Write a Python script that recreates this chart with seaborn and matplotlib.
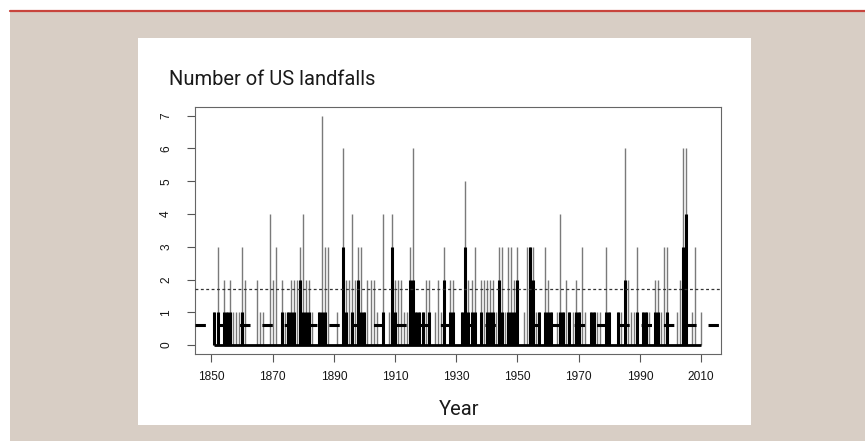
import numpy as np
import pandas as pd
import matplotlib
matplotlib.use("Agg")
import matplotlib.pyplot as plt
from matplotlib.patches import Rectangle
from matplotlib.lines import Line2D
import seaborn as sns

# US hurricane landfalls per year, 1851-2010: all hurricanes and major ones
years = list(range(1851, 2011))
all_landfalls = [
    1, 3, 0, 2, 1, 2, 1, 1, 1, 3,      # 1851-1860
    2, 0, 0, 0, 2, 1, 1, 0, 4, 2,      # 1861-1870
    3, 0, 2, 1, 1, 2, 2, 2, 3, 4,      # 1871-1880
    2, 2, 1, 0, 1, 7, 3, 3, 0, 0,      # 1881-1890
    1, 0, 6, 2, 2, 4, 2, 3, 3, 1,      # 1891-1900
    2, 2, 2, 1, 0, 4, 0, 1, 4, 2,      # 1901-1910
    2, 2, 1, 1, 3, 6, 1, 1, 1, 2,      # 1911-1920
    2, 0, 1, 2, 1, 3, 0, 2, 2, 0,      # 1921-1930
    0, 1, 5, 2, 2, 3, 0, 2, 2, 2,      # 1931-1940
    2, 2, 1, 3, 3, 1, 3, 3, 2, 3,      # 1941-1950
    0, 1, 3, 3, 3, 1, 1, 0, 3, 2,      # 1951-1960
    1, 0, 1, 4, 1, 2, 1, 1, 2, 1,      # 1961-1970
    3, 1, 0, 1, 1, 1, 1, 0, 3, 1,      # 1971-1980
    0, 0, 1, 1, 6, 2, 1, 1, 3, 0,      # 1981-1990
    1, 1, 1, 0, 2, 2, 1, 3, 3, 0,      # 1991-2000
    0, 1, 2, 6, 6, 0, 1, 3, 0, 1,      # 2001-2010
]
major_landfalls = [
    1, 1, 0, 1, 1, 1, 0, 0, 0, 1,
    0, 0, 0, 0, 0, 0, 0, 0, 0, 0,
    0, 0, 1, 0, 1, 1, 1, 0, 2, 1,
    1, 1, 0, 0, 1, 1, 1, 0, 0, 0,
    0, 0, 3, 1, 0, 1, 0, 2, 1, 1,
    0, 0, 0, 0, 0, 1, 0, 0, 3, 1,
    0, 0, 0, 0, 2, 2, 1, 1, 1, 0,
    1, 0, 0, 0, 0, 2, 0, 1, 1, 0,
    0, 1, 3, 1, 1, 1, 0, 1, 0, 1,
    1, 1, 0, 2, 1, 0, 1, 1, 1, 2,
    0, 0, 0, 3, 2, 0, 1, 0, 1, 1,
    1, 0, 0, 1, 1, 0, 1, 0, 1, 1,
    0, 0, 0, 1, 1, 0, 0, 0, 1, 1,
    0, 0, 1, 0, 2, 0, 0, 0, 1, 0,
    1, 1, 0, 0, 1, 1, 0, 0, 1, 0,
    0, 0, 0, 3, 4, 0, 0, 0, 0, 0,
]
x_ticks = [1850, 1870, 1890, 1910, 1930, 1950, 1970, 1990, 2010]
y_ticks = [0, 1, 2, 3, 4, 5, 6, 7]

df = pd.DataFrame({"year": years, "all": all_landfalls, "major": major_landfalls})
mean_all = df["all"].mean()
mean_major = df["major"].mean()

sns.set_theme(style="white")
plt.rcParams["font.family"] = ["Liberation Sans", "DejaVu Sans"]

W, H = 865, 441
fig = plt.figure(figsize=(W / 100, H / 100), dpi=100, facecolor="white")

# page background, rule and white card
fig.add_artist(Rectangle((10 / W, 0), 1 - 10 / W, 1 - 11 / H,
                         transform=fig.transFigure, facecolor="#d8cec5",
                         edgecolor="none", zorder=0))
fig.add_artist(Line2D([10 / W, 1], [1 - 10.5 / H, 1 - 10.5 / H],
                      transform=fig.transFigure, color="#c8453d", lw=1.6, zorder=1))
fig.add_artist(Rectangle((138 / W, 1 - 425 / H), (751 - 138) / W, (425 - 38) / H,
                         transform=fig.transFigure, facecolor="white",
                         edgecolor="none", zorder=1))

ax = fig.add_axes([195 / W, 1 - 354.3 / H, (720.5 - 195) / W, (354.3 - 106.5) / H])
ax.set_facecolor("white")
ax.set_zorder(2)

# thin stems: all landfalls; thick stems: major landfalls
ax.vlines(df["year"], 0, df["all"], color="#7a7a7a", lw=1.0, zorder=2)
pos = df[df["major"] > 0]
ax.vlines(pos["year"], 0, pos["major"], color="black", lw=2.2, zorder=3)
ax.hlines(0, df["year"].min(), df["year"].max(), color="black", lw=2.0, zorder=3)

# long-run averages
ax.axhline(mean_major, color="black", lw=2.2, dashes=(3.4, 3.9), zorder=4)
ax.axhline(mean_all, color="#333333", lw=0.9, dashes=(2.3, 2.0), zorder=4)

ax.set_xlim(1844.64, 2016.36)
ax.set_ylim(-0.28, 7.28)
ax.set_xticks(x_ticks)
ax.set_xticklabels([str(t) for t in x_ticks])
ax.set_yticks(y_ticks)
ax.set_yticklabels([str(t) for t in y_ticks], rotation=90, va="center")
ax.tick_params(axis="both", direction="out", length=5.5, width=0.8,
               color="#555555", labelsize=8.6, labelcolor="#161616")
ax.tick_params(axis="x", pad=6.5)
ax.tick_params(axis="y", pad=11)
ax.tick_params(left=True, bottom=True)
for s in ax.spines.values():
    s.set_color("#666666")
    s.set_linewidth(0.8)
    s.set_visible(True)
ax.grid(False)

fig.text(169 / W, 1 - 85 / H, "Number of US landfalls", family=["Roboto", "DejaVu Sans"],
         fontsize=14.5, color="#1a1a1a", va="baseline", ha="left")
fig.text(459 / W, 1 - 415 / H, "Year", family=["Roboto", "DejaVu Sans"],
         fontsize=14.5, color="#1a1a1a", va="baseline", ha="center")

fig.savefig("out.png", dpi=100, facecolor="white")
